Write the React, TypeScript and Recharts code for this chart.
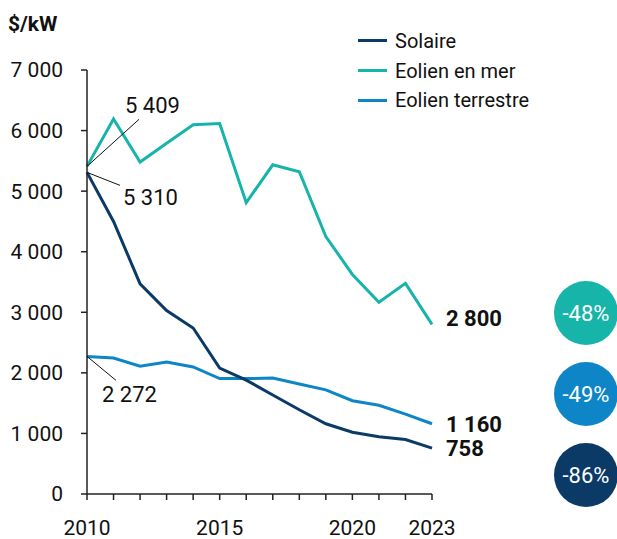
import React from 'react'
import { LineChart, Line, XAxis, YAxis } from 'recharts'

const years = [2010, 2011, 2012, 2013, 2014, 2015, 2016, 2017, 2018, 2019, 2020, 2021, 2022, 2023]
const solaire = [5310, 4500, 3470, 3030, 2740, 2080, 1880, 1635, 1390, 1160, 1020, 945, 900, 758]
const eolienMer = [5409, 6190, 5480, 5790, 6095, 6115, 4810, 5435, 5320, 4250, 3625, 3165, 3478, 2800]
const eolienTerre = [2272, 2245, 2110, 2180, 2098, 1905, 1905, 1915, 1815, 1720, 1540, 1465, 1320, 1160]
const yTicks = [0, 1000, 2000, 3000, 4000, 5000, 6000, 7000]
const xLabels = [2010, 2015, 2020, 2023]
const changes = ['-48%', '-49%', '-86%']

const C_SOL = '#0b3a66'
const C_MER = '#17b4a9'
const C_TER = '#0e85c6'
const FONT = 'Roboto, sans-serif'

const data = years.map((y, i) => ({
  year: y,
  solaire: solaire[i],
  mer: eolienMer[i],
  terre: eolienTerre[i],
}))

const fmt = (v: number) => {
  const s = String(Math.round(v))
  return s.length > 3 ? s.slice(0, s.length - 3) + ' ' + s.slice(-3) : s
}

// annotation at first point (leader line + text) and bold label at last point
function makeLabel(opts: { dx: number; dy: number; tx: number; ty: number; endDy: number }) {
  return (props: any) => {
    const { x, y, index, value } = props
    if (index === 0) {
      return (
        <g>
          <line x1={x} y1={y} x2={x + opts.dx} y2={y + opts.dy} stroke="#111" strokeWidth={1} />
          <text x={x + opts.tx} y={y + opts.ty} fontSize={22} fontFamily={FONT} fill="#111" dominantBaseline="central">
            {fmt(value)}
          </text>
        </g>
      )
    }
    if (index === years.length - 1) {
      return (
        <text x={x + 14} y={y + opts.endDy} fontSize={22} fontWeight="bold" fontFamily={FONT} fill="#111" dominantBaseline="central">
          {fmt(value)}
        </text>
      )
    }
    return null
  }
}

const XTick = (props: any) => {
  const { x, y, payload } = props
  if (!xLabels.includes(payload.value)) return null
  return (
    <text x={x} y={y + 26} textAnchor="middle" fontSize={21} fontFamily={FONT} fill="#111" dominantBaseline="central">
      {payload.value}
    </text>
  )
}

const legendItems = [
  { name: 'Solaire', color: C_SOL },
  { name: 'Eolien en mer', color: C_MER },
  { name: 'Eolien terrestre', color: C_TER },
]
const circleColors = [C_MER, C_TER, C_SOL]
const circleY = [313, 394, 475]

export default function App() {
  return (
    <div style={{ position: 'absolute', left: 0, top: 0, width: 617, height: 539, background: '#fff', fontFamily: FONT }}>
      <div style={{ position: 'absolute', left: 8, top: 12, fontSize: 21, fontWeight: 'bold', color: '#111' }}>$/kW</div>

      <div style={{ position: 'absolute', left: 358, top: 26 }}>
        {legendItems.map((it) => (
          <div key={it.name} style={{ display: 'flex', alignItems: 'center', height: 29.7 }}>
            <div style={{ width: 29, height: 3, background: it.color, marginRight: 8 }} />
            <span style={{ fontSize: 20, color: '#111' }}>{it.name}</span>
          </div>
        ))}
      </div>

      {changes.map((c, i) => (
        <div
          key={c}
          style={{
            position: 'absolute',
            left: 586 - 32,
            top: circleY[i] - 32,
            width: 64,
            height: 64,
            borderRadius: 32,
            background: circleColors[i],
            color: '#fff',
            fontSize: 22,
            display: 'flex',
            alignItems: 'center',
            justifyContent: 'center',
          }}
        >
          {c}
        </div>
      ))}

      <LineChart width={617} height={539} data={data} margin={{ top: 70, right: 185, left: 27, bottom: 0 }}>
        <XAxis
          dataKey="year"
          type="number"
          domain={[2010, 2023]}
          ticks={years}
          interval={0}
          tick={<XTick />}
          tickSize={6}
          height={45}
          stroke="#222"
          strokeWidth={1.5}
        />
        <YAxis
          type="number"
          domain={[0, 7000]}
          ticks={yTicks}
          interval={0}
          tickFormatter={fmt}
          tickSize={6}
          tickMargin={18}
          width={60}
          stroke="#222"
          strokeWidth={1.5}
          tick={{ fill: '#111', fontSize: 21, fontFamily: FONT }}
        />
        <Line
          dataKey="mer"
          stroke={C_MER}
          strokeWidth={3}
          dot={false}
          isAnimationActive={false}
          label={makeLabel({ dx: 52, dy: -47, tx: 38, ty: -61, endDy: -6 })}
        />
        <Line
          dataKey="terre"
          stroke={C_TER}
          strokeWidth={3}
          dot={false}
          isAnimationActive={false}
          label={makeLabel({ dx: 29, dy: 24, tx: 15, ty: 38, endDy: 1 })}
        />
        <Line
          dataKey="solaire"
          stroke={C_SOL}
          strokeWidth={3}
          dot={false}
          isAnimationActive={false}
          label={makeLabel({ dx: 33, dy: 13, tx: 36, ty: 25, endDy: 0 })}
        />
      </LineChart>
    </div>
  )
}
